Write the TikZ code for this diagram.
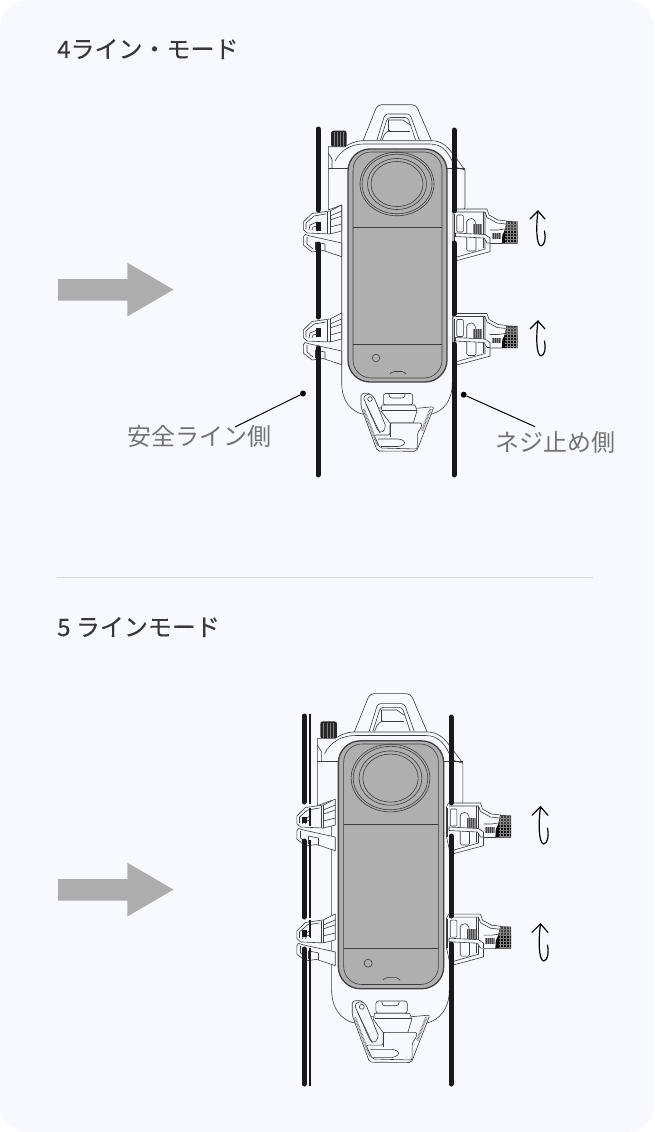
\documentclass[tikz,border=0pt]{standalone}
\usepackage{fontspec}
\usepackage{xcolor}
\usetikzlibrary{positioning,calc}
\setmainfont{Noto Sans CJK JP}
\newfontfamily\titlefont[FakeBold=0.25]{Noto Sans CJK JP}
\definecolor{panelcol}{HTML}{F8F9FE}
\definecolor{inkcol}{HTML}{3C3C3C}
\definecolor{bodycol}{HTML}{AFAFAF}
\definecolor{arrowcol}{HTML}{ADADAD}
\tikzset{
    thinline/.style={draw=inkcol, line width=0.6pt, line join=round},
    shellpart/.style={thinline, fill=panelcol},
    rope/.style={black!90, line width=5pt, line cap=round},
    thinrope/.style={black!90, line width=1.7pt},
    ropepiece/.style={black!90, line width=5pt},
    title/.style={anchor=base west, font=\titlefont\fontsize{24}{24}\selectfont, text=black!78, inner sep=0pt},
    sidelabel/.style={anchor=base west, font=\fontsize{24}{24}\selectfont, text=black!55, inner sep=0pt},
    leaderdot/.style={circle, fill=black, inner sep=0pt, minimum size=6pt},
    leader/.style={black, line width=1pt},
    turnmark/.style={black, line width=1.2pt, line cap=round, line join=round},
    bigarrow/.style={fill=arrowcol, draw=none},
    % right clamp, drawn at the first position
    rightclamp/.pic={
        \draw[shellpart] (58,26) -- (90,26) -- (92,32) -- (101,37) -- (110,38) -- (108,47) -- (105,60.5) -- (93,60.5) -- (93,68.7) -- (88,70) -- (60,77.5) -- (56,60) -- (56,30) -- cycle;
        \draw[thinline] (58.5,29) -- (88,29) -- (90,34.5) -- (100,40) -- (109,41);
        \draw[thinline] (60,74) -- (88,66) -- (88,29);
        \draw[thinline] (86,29) -- (86,65);
        \draw[thinline, rounded corners=1pt] (59.7,32) rectangle (66.3,49);
        \draw[thinline] (57,31) -- (57,60);
        \draw[thinline, rounded corners=1.5pt] (69.7,68) -- (69.7,37) -- (75.7,35) -- (79,40) -- (79,68) -- cycle;
        \fill[black!45] (76,41) rectangle (85,51);
        \foreach \lx in {77,79,81,83} {\draw[black!70, line width=0.4pt] (\lx,41) -- (\lx,51);}
        \draw[shellpart] (58.5,50) -- (88,51.5) -- (93,55) -- (93,60) -- (90,60) -- (87,55) -- (58.5,53.5) -- cycle;
        \draw[thinline] (93,47) -- (101,47) -- (108,46);
        \fill[black!45] (94.7,50) rectangle (104,55.5);
        \foreach \lx in {96,98,100,102} {\draw[black!75, line width=0.4pt] (\lx,50) -- (\lx,55.5);}
        \fill[black!75] (109.7,38) -- (120.7,38.5) -- (120.7,47) -- (108,47) -- cycle;
        \fill[black!95] (108,47) -- (120.7,47) -- (120.7,60.5) -- (105,60.5) -- (105.3,52) -- cycle;
        \foreach \lx in {110,113,116,119} {\draw[black!45, line width=0.3pt] (\lx,39) -- (\lx,60);}
        \foreach \ly in {41,44,47,50,53,56,59} {\draw[black!50, line width=0.3pt] (108,\ly) -- (120.7,\ly);}
    },
    % left clamp, drawn at the first position
    leftclamp/.pic={
        \draw[shellpart] (-55.3,22) -- (-67,28) -- (-85,30.5) -- (-93.7,39) -- (-93.7,46.5) -- (-90,50) -- (-67,51) -- (-55.3,48) -- cycle;
        \draw[thinline] (-91,46) -- (-91,40) -- (-83,33) -- (-71,31);
        \draw[thinline] (-67,28) -- (-67,51);
        \draw[thinline] (-69.5,29) -- (-69.5,51);
        \draw[thinline] (-55.3,28) -- (-67,33);
        \draw[thinline] (-55.3,33) -- (-67,37);
        \draw[thinline] (-55.3,41) -- (-67,44);
        \draw[thinline] (-88,47) -- (-87,42) -- (-80,39) -- (-80,46);
        \draw[thinline] (-85,47) -- (-84,44) -- (-80,43);
        \draw[shellpart] (-55.3,60) -- (-87,53) -- (-92,51.5) -- (-93.7,54) -- (-93.7,62) -- (-85,69) -- (-74,67.5) -- (-55.3,73.7) -- cycle;
        \draw[thinline] (-90,54) -- (-90,61) -- (-84,66);
        \draw[thinline] (-82,59) -- (-72,61) -- (-72,68);
        \draw[thinline] (-82,59) -- (-82,67);
    },
    % camera in its housing; origin at the lens
    camera/.pic={
        % side tab with loop
        \draw[shellpart, rounded corners=4pt] (-34.5,-41) -- (-19.5,-78.3) -- (19,-78.3) -- (35,-41);
        \draw[thinline, rounded corners=3pt] (-20,-43) -- (-12,-69) -- (13,-69) -- (22.3,-43);
        \draw[thinline, rounded corners=3pt] (-16.5,-43) -- (-9.5,-65.5) -- (11,-65.5) -- (18.5,-43);
        \draw[thinline] (-9,-63) -- (-9,-52) -- (13,-52);
        \draw[thinline] (-9,-63) -- (6,-63) -- (13,-58);
        \draw[thinline, rounded corners=2pt] (-15,-43) -- (-12,-50) -- (-7,-53);
        % small dial
        \fill[black!85, rounded corners=2.5pt] (-66,-36) rectangle (-50.3,-52.3);
        \foreach \lx in {-63,-60,-57,-54} {\draw[black!50, line width=0.3pt] (\lx,-36) -- (\lx,-51);}
        % housing
        \draw[shellpart] (-68.7,-36.3) -- (-68.7,27) -- (-55.3,22) -- (-55.3,200) .. controls (-55.3,218) and (-46,228) .. (-35,231) -- (35,231) .. controls (46,228) and (55.3,218) .. (55.3,200) -- (55.3,60) -- (68,24) -- (68,-13) -- (56,-29) .. controls (50,-37) and (44,-42.3) .. (34.7,-42.3) -- (-35.3,-42.3) .. controls (-42,-42) and (-48,-39) .. (-52,-36.3) -- cycle;
        \draw[thinline] (-68.7,-14.7) -- (-49,-14.7);
        \draw[thinline] (-68.7,-30) -- (-65,-24) -- (-65,-14.7);
        \draw[thinline] (-62,-22) .. controls (-56,-33) and (-46,-39) .. (-33,-39) -- (33,-39) .. controls (46,-39) and (52,-30) .. (58,-16) -- (68,-13);
        \draw[thinline] (50,-14.7) -- (68,-14.7);
        % camera body
        \draw[fill=bodycol, draw=black!75, line width=1.3pt, rounded corners=22pt] (-49,-34) rectangle (50,199);
        \draw[thinline, rounded corners=18pt] (-44,-31) rectangle (45,195);
        \draw[thinline] (-44,44) -- (45,44);
        \draw[thinline] (-44,161) -- (45,161);
        % lens rings
        \foreach \rx/\ry in {37/31.8, 35/29.8, 29.5/25.5, 26/22.6} {
            \draw[thinline] (0,1) ellipse [x radius=\rx, y radius=\ry];
        }
        % button and notch
        \draw[thinline] (-21,175) circle (3.8);
        \draw[thinline, rounded corners=2pt] (-7,191) -- (-5,188.5) -- (7,188.5) -- (9,191);
        % lower mount
        \draw[shellpart, rounded corners=2pt] (-36,210.5) -- (-27,210) -- (-20,225) -- (19.7,225.3) -- (37,223.7) -- (21.3,264) -- (19.7,268.3) -- (-19.7,268) -- (-36,224) -- cycle;
        \draw[black!50, line width=2.4pt, dash pattern=on 0.7pt off 0.7pt] (-33.5,226) -- (-19,263);
        \draw[black!50, line width=2.4pt, dash pattern=on 0.7pt off 0.7pt] (33.5,226) -- (25,248);
        \draw[shellpart, rounded corners=2.5pt] (-13.7,210.5) rectangle (15.7,222);
        \draw[thinline, rounded corners=3pt] (-8,211) -- (-8,215) -- (8,215) -- (8,211);
        \draw[shellpart] (-15,222) -- (-16,228) -- (-7,240) -- (16.3,240) -- (20,228) -- (18,222) -- cycle;
        \draw[thinline] (-15,227) -- (20,227);
        \draw[shellpart, rounded corners=2pt] (-7,240) -- (24.7,240) -- (24.7,244) -- (20.3,250) -- (20.3,266) -- (-17,265) -- (-23,252) -- (-7,252) -- cycle;
        \draw[thinline, rounded corners=3pt] (-19,256) -- (4,256) -- (9,259.5) -- (4,263.5) -- (-16,263.5);
        \draw[thinline] (-6.5,240) -- (-6.5,254);
        \draw[shellpart, rounded corners=2pt] (-34,214) -- (-28,210.5) -- (-23,214) -- (-11,244) -- (-15,250) -- (-19,248) -- cycle;
        \draw[thinline] (-27,216) circle (2.3);
        \draw[thinline] (-31,221) -- (-17,250);
        % clamps and turning marks
        \foreach \shiftL in {0,108} {
            \pic at (0,\shiftL) {leftclamp};
        }
        \foreach \shiftR in {0,104.5} {
            \pic at (0,\shiftR) {rightclamp};
        }
        \foreach \shiftM in {0,110} {
            \draw[turnmark] (133,\shiftM+36) -- (141,\shiftM+28) -- (148,\shiftM+36);
            \draw[turnmark] (141,\shiftM+28) .. controls (139,\shiftM+42) and (139,\shiftM+62) .. (144,\shiftM+63) .. controls (148,\shiftM+62) and (149,\shiftM+55) .. (147.5,\shiftM+48);
        }
    }
}
\begin{document}
\begin{tikzpicture}[x=1pt, y=-1pt]
    \useasboundingbox (0,0) rectangle (654,1132);
    \fill[white] (0,0) rectangle (654,1132);
    \fill[panelcol, rounded corners=28pt] (0,0) rectangle (654,1132);

    % 4 line mode
    \node[title] (titleFour) at (57,58) {4ライン・モード};
    \fill[bigarrow] (58,279) -- (127.3,279) -- (127.3,262.7) -- (173.5,289.6) -- (127.3,316.5) -- (127.3,300.7) -- (58,300.7) -- cycle;
    \pic at (397,183) {camera};

    % ropes
    \foreach \a/\b in {129/210, 244/317, 348/475} {
        \draw[rope] (318,\a) -- (318,\b);
    }
    \foreach \a/\b in {222/231, 328/337} {
        \draw[ropepiece] (318,\a) -- (318,\b);
    }
    \foreach \a/\b in {130/211, 243/314, 344/475} {
        \draw[rope] (454,\a) -- (454,\b);
    }

    % labels
    \node[sidelabel] (labelSafe) at (127.5,445.5) {安全ライン側};
    \node[sidelabel] (labelScrew) at (495,451.5) {ネジ止め側};
    \node[leaderdot] (dotSafe) at (303,393.5) {};
    \node[leaderdot] (dotScrew) at (463.7,394.7) {};
    \coordinate (endSafe) at (235,427);
    \coordinate (endScrew) at (535,426.7);
    \draw[leader] (dotSafe) -- (endSafe);
    \draw[leader] (dotScrew) -- (endScrew);

    % divider
    \draw[black!15, line width=1.5pt] (57,577.7) -- (593,577.7);

    % 5 line mode
    \node[title] (titleFive) at (57,636) {5 ラインモード};
    \fill[bigarrow] (58,879) -- (127.3,879) -- (127.3,862.7) -- (173.5,889.6) -- (127.3,916.5) -- (127.3,900.7) -- (58,900.7) -- cycle;
    \pic[scale=1.064] at (390.5,777) {camera};

    % ropes
    \foreach \a/\b in {716/802, 841/917, 949/1084} {
        \draw[rope] (304,\a) -- (304,\b);
    }
    \foreach \a/\b in {817/823, 930/937} {
        \draw[ropepiece] (304,\a) -- (304,\b);
    }
    \foreach \a/\b in {714/804, 808/826, 840/918, 920/937, 948/1086} {
        \draw[thinrope] (310,\a) -- (310,\b);
    }
    \foreach \a/\b in {717/803, 836/916, 944/1084} {
        \draw[rope] (451,\a) -- (451,\b);
    }
\end{tikzpicture}
\end{document}
